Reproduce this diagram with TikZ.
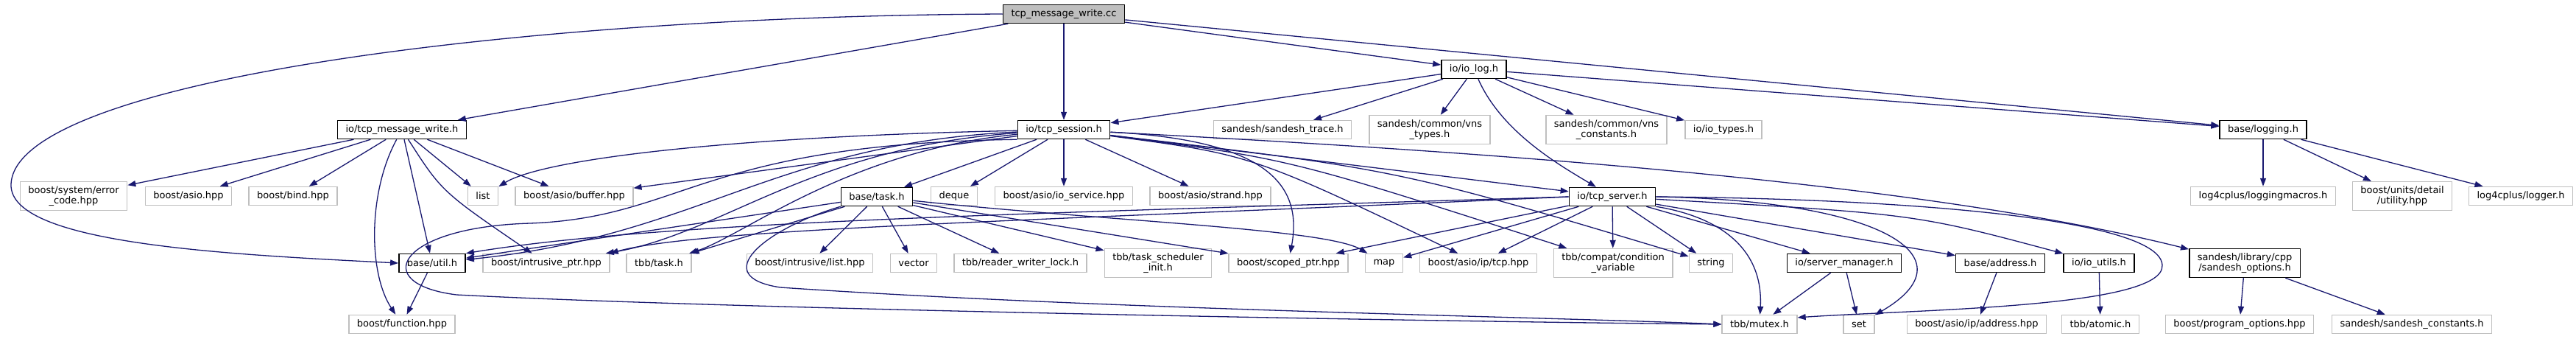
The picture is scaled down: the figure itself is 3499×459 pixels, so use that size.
\documentclass[tikz,border=0pt]{standalone}
\usepackage{fontspec}
\setmainfont{DejaVu Sans}
\usepackage{tikz}
\usetikzlibrary{arrows.meta, positioning}
\definecolor{edgeblue}{HTML}{191970}
\definecolor{boxgray}{HTML}{BFBFBF}

\begin{document}
\begin{tikzpicture}[x=1pt, y=-1pt,
		every node/.style={rectangle, align=center, font=\fontsize{13}{14}\selectfont, inner xsep=11pt, inner ysep=6pt, minimum height=25pt},
		incl/.style={-{Triangle[length=11pt, width=8pt]}, line width=1.3pt, color=edgeblue},
		file_main/.style={
			draw=black,
			line width=1.5pt,
			fill=boxgray
		},
		file_doc/.style={
			draw=black,
			line width=1.5pt,
			fill=white
		},
		file_ext/.style={
			draw=boxgray,
			line width=1.5pt,
			fill=white
		}
		]
		
		\path[use as bounding box, fill=white] (0,0) rectangle (3499,459);
		
		% --- Root file ---
		\node[file_main] (CC) at (1445,19) {tcp\_message\_write.cc};
		
		% --- Direct headers ---
		\node[file_doc] (IOLOG) at (2002,94) {io/io\_log.h};
		\node[file_doc] (TMW) at (546,176) {io/tcp\_message\_write.h};
		\node[file_doc] (TS) at (1445,176) {io/tcp\_session.h};
		\node[file_ext] (TRACE) at (1742,176) {sandesh/sandesh\_trace.h};
		\node[file_ext] (VNSTYPES) at (1942,176) {sandesh/common/vns\\\_types.h};
		\node[file_ext] (VNSCONST) at (2182,176) {sandesh/common/vns\\\_constants.h};
		\node[file_ext] (IOTYPES) at (2341,176) {io/io\_types.h};
		\node[file_doc] (LOGGING) at (3074,176) {base/logging.h};
		
		% --- Third row ---
		\node[file_ext] (ERRCODE) at (100,266) {boost/system/error\\\_code.hpp};
		\node[file_ext] (ASIO) at (256,266) {boost/asio.hpp};
		\node[file_ext] (BIND) at (398,266) {boost/bind.hpp};
		\node[file_ext] (LIST) at (656,266) {list};
		\node[file_ext] (BUFFER) at (780,266) {boost/asio/buffer.hpp};
		\node[file_doc] (TASK) at (1191,267) {base/task.h};
		\node[file_ext] (DEQUE) at (1296,266) {deque};
		\node[file_ext] (IOSERVICE) at (1445,266) {boost/asio/io\_service.hpp};
		\node[file_ext] (STRAND) at (1644,266) {boost/asio/strand.hpp};
		\node[file_doc] (TCPSERVER) at (2190,267) {io/tcp\_server.h};
		\node[file_ext] (MACROS) at (3074,266) {log4cplus/loggingmacros.h};
		\node[file_ext] (UTILITY) at (3263,266) {boost/units/detail\\/utility.hpp};
		\node[file_ext] (LOGGER) at (3424,266) {log4cplus/logger.h};
		
		% --- Fourth row ---
		\node[file_doc] (UTIL) at (587,357) {base/util.h};
		\node[file_ext] (INTRUSIVE) at (742,357) {boost/intrusive\_ptr.hpp};
		\node[file_ext] (TBBTASK) at (895,357) {tbb/task.h};
		\node[file_ext] (ILIST) at (1100,357) {boost/intrusive/list.hpp};
		\node[file_ext] (VECTOR) at (1241,357) {vector};
		\node[file_ext] (RWLOCK) at (1386,357) {tbb/reader\_writer\_lock.h};
		\node[file_ext] (TSINIT) at (1573,357) {tbb/task\_scheduler\\\_init.h};
		\node[file_ext] (SCOPED) at (1750,357) {boost/scoped\_ptr.hpp};
		\node[file_ext] (MAP) at (1880,357) {map};
		\node[file_ext] (IPTCP) at (2008,357) {boost/asio/ip/tcp.hpp};
		\node[file_ext] (CONDVAR) at (2191,357) {tbb/compat/condition\\\_variable};
		\node[file_ext] (STRING) at (2324,357) {string};
		\node[file_doc] (SRVMGR) at (2505,357) {io/server\_manager.h};
		\node[file_doc] (ADDRESS) at (2717,357) {base/address.h};
		\node[file_doc] (IOUTILS) at (2851,357) {io/io\_utils.h};
		\node[file_doc] (OPTIONS) at (3049,357) {sandesh/library/cpp\\/sandesh\_options.h};
		
		% --- Bottom row ---
		\node[file_ext] (FUNCTION) at (546,440) {boost/function.hpp};
		\node[file_ext] (MUTEX) at (2390,440) {tbb/mutex.h};
		\node[file_ext] (SET) at (2525,440) {set};
		\node[file_ext] (IPADDR) at (2685,440) {boost/asio/ip/address.hpp};
		\node[file_ext] (ATOMIC) at (2853,440) {tbb/atomic.h};
		\node[file_ext] (PROGOPT) at (3042,440) {boost/program\_options.hpp};
		\node[file_ext] (SCONST) at (3276,440) {sandesh/sandesh\_constants.h};
		
		% --- tcp_message_write.cc ---
		\draw[incl] (CC) -- (TMW);
		\draw[incl] (CC) -- (TS);
		\draw[incl] (CC) -- (IOLOG);
		\draw[incl] (CC) -- (LOGGING);
		\draw[incl] (CC.west) .. controls (700,22) and (20,110) .. (15,250) .. controls (12,330) and (300,345) .. (UTIL.west);
		
		% --- io/tcp_message_write.h ---
		\draw[incl] (TMW) -- (ERRCODE);
		\draw[incl] (TMW) -- (ASIO);
		\draw[incl] (TMW) -- (BIND);
		\draw[incl] (TMW) -- (LIST);
		\draw[incl] (TMW) -- (BUFFER);
		\draw[incl] (TMW) -- (UTIL);
		\draw[incl] (TMW) .. controls (600,260) .. (INTRUSIVE);
		\draw[incl] (TMW) .. controls (500,260) and (500,370) .. (FUNCTION);
		
		% --- io/tcp_session.h ---
		\draw[incl] (TS) .. controls (1000,185) and (740,215) .. (LIST);
		\draw[incl] (TS) -- (BUFFER);
		\draw[incl] (TS) .. controls (1050,195) and (950,320) .. (UTIL);
		\draw[incl] (TS) .. controls (1100,200) and (980,318) .. (INTRUSIVE);
		\draw[incl] (TS) .. controls (1150,205) and (1010,320) .. (TBBTASK);
		\draw[incl] (TS) -- (TASK);
		\draw[incl] (TS) -- (DEQUE);
		\draw[incl] (TS) -- (IOSERVICE);
		\draw[incl] (TS) -- (STRAND);
		\draw[incl] (TS) .. controls (1720,190) and (1770,250) .. (SCOPED);
		\draw[incl] (TS) .. controls (1700,210) .. (IPTCP);
		\draw[incl] (TS) .. controls (1750,215) .. (CONDVAR);
		\draw[incl] (TS) .. controls (1900,230) .. (STRING);
		\draw[incl] (TS) -- (TCPSERVER);
		\draw[incl] (TS) .. controls (2000,205) and (2600,245) .. (OPTIONS);
		\draw[incl] (TS.south west) .. controls (950,195) and (930,295) .. (720,303) .. controls (540,308) and (500,385) .. (620,400) .. controls (1000,420) and (2000,437) .. (MUTEX.west);
		
		% --- base/task.h ---
		\draw[incl] (TASK) -- (UTIL);
		\draw[incl] (TASK) -- (TBBTASK);
		\draw[incl] (TASK) -- (ILIST);
		\draw[incl] (TASK) -- (VECTOR);
		\draw[incl] (TASK) -- (RWLOCK);
		\draw[incl] (TASK) -- (TSINIT);
		\draw[incl] (TASK) -- (SCOPED);
		\draw[incl] (TASK) .. controls (1500,300) and (1800,310) .. (MAP);
		\draw[incl] (TASK.south west) .. controls (1040,310) and (960,375) .. (1060,390) .. controls (1500,420) and (2100,430) .. (MUTEX.west);
		
		% --- io/io_log.h ---
		\draw[incl] (IOLOG) -- (TS);
		\draw[incl] (IOLOG) -- (TRACE);
		\draw[incl] (IOLOG) -- (VNSTYPES);
		\draw[incl] (IOLOG) -- (VNSCONST);
		\draw[incl] (IOLOG) -- (IOTYPES);
		\draw[incl] (IOLOG) -- (LOGGING);
		\draw[incl] (IOLOG) .. controls (2040,180) and (2120,225) .. (TCPSERVER);
		
		% --- io/tcp_server.h ---
		\draw[incl] (TCPSERVER.west) .. controls (1400,290) and (900,300) .. (UTIL.north east);
		\draw[incl] (TCPSERVER.west) .. controls (1400,300) and (950,310) .. (INTRUSIVE.north east);
		\draw[incl] (TCPSERVER) -- (SCOPED);
		\draw[incl] (TCPSERVER) -- (MAP);
		\draw[incl] (TCPSERVER) -- (IPTCP);
		\draw[incl] (TCPSERVER) -- (CONDVAR);
		\draw[incl] (TCPSERVER) -- (STRING);
		\draw[incl] (TCPSERVER) -- (SRVMGR);
		\draw[incl] (TCPSERVER) -- (ADDRESS);
		\draw[incl] (TCPSERVER) .. controls (2600,290) .. (IOUTILS);
		\draw[incl] (TCPSERVER.south east) .. controls (2340,295) and (2395,340) .. (MUTEX);
		\draw[incl] (TCPSERVER.east) .. controls (2560,272) and (2680,350) .. (SET);
		\draw[incl] (TCPSERVER.east) .. controls (2620,270) and (2935,300) .. (2937,360) .. controls (2940,418) and (2600,420) .. (MUTEX.10);
		
		% --- leaves of the lower levels ---
		\draw[incl] (UTIL) -- (FUNCTION);
		\draw[incl] (SRVMGR) -- (MUTEX);
		\draw[incl] (SRVMGR) -- (SET);
		\draw[incl] (ADDRESS) -- (IPADDR);
		\draw[incl] (IOUTILS) -- (ATOMIC);
		\draw[incl] (OPTIONS) -- (PROGOPT);
		\draw[incl] (OPTIONS) -- (SCONST);
		
		% --- base/logging.h ---
		\draw[incl] (LOGGING) -- (MACROS);
		\draw[incl] (LOGGING) -- (UTILITY);
		\draw[incl] (LOGGING) -- (LOGGER);
		
	\end{tikzpicture}
\end{document}
